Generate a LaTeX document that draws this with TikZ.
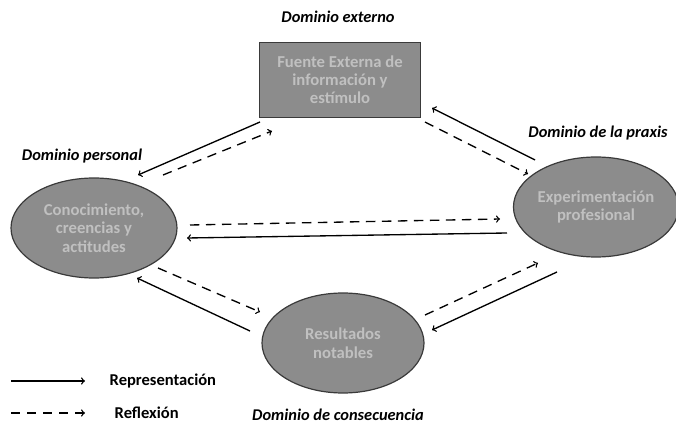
\documentclass[tikz,border=0pt]{standalone}
\usepackage{fontspec}
\setmainfont{Carlito}
\usepackage{tikz}
\usetikzlibrary{shapes.geometric}

\definecolor{relleno}{HTML}{8C8C8C}
\definecolor{borde}{HTML}{3A3A3A}
\definecolor{letra}{HTML}{C0C0C0}

\begin{document}
\begin{tikzpicture}[x=0.75pt,y=-0.75pt,>=to,
    dominio/.style={ellipse,draw=borde,line width=0.9pt,fill=relleno,text=letra,
      font=\bfseries\fontsize{12.5}{14}\selectfont,align=center,inner sep=0pt},
    fuente/.style={rectangle,draw=borde,line width=0.9pt,fill=relleno,text=letra,
      font=\bfseries\fontsize{12.5}{13.5}\selectfont,align=center,
      minimum width=120.75pt,minimum height=56.25pt},
    titulo/.style={font=\bfseries\itshape\fontsize{12.3}{14}\selectfont},
    leyenda/.style={font=\bfseries\fontsize{12.4}{14}\selectfont,anchor=west},
    rep/.style={->,line width=1pt},
    refl/.style={->,line width=1pt,dash pattern=on 7pt off 5pt}]

  \useasboundingbox (0,0) rectangle (676,424);

  % dominios
  \node[fuente] (fuente) at (340,80) {Fuente Externa de\\información y\\estímulo};
  \node[dominio,minimum width=124.5pt,minimum height=75pt] (personal) at (94,228)
    {Conocimiento,\\creencias y\\actitudes};
  \node[dominio,minimum width=117pt,minimum height=75pt] (praxis) at (596,207)
    {Experimentación\\profesional};
  \node[dominio,minimum width=121.5pt,minimum height=75pt] (resultados) at (343,343)
    {Resultados\\notables};

  \node[titulo] (tExterno) at (338,17) {Dominio externo};
  \node[titulo] (tPersonal) at (82,156) {Dominio personal};
  \node[titulo] (tPraxis) at (598,133) {Dominio de la praxis};
  \node[titulo] (tConsec) at (338,415) {Dominio de consecuencia};

  % flechas
  \path[rep] ([shift={(-80,42)}]fuente.center) edge ([shift={(44,-53)}]personal.center);
  \path[refl] ([shift={(69,-53)}]personal.center) edge ([shift={(-68,51)}]fuente.center);

  \path[rep] ([shift={(-61,-47)}]praxis.center) edge ([shift={(92,28)}]fuente.center);
  \path[refl] ([shift={(85,42)}]fuente.center) edge ([shift={(-68,-33)}]praxis.center);

  \path[refl] ([shift={(96,-3)}]personal.center) edge ([shift={(-96,12)}]praxis.center);
  \path[rep] ([shift={(-89,26)}]praxis.center) edge ([shift={(93,10)}]personal.center);

  \path[refl] ([shift={(64,40)}]personal.center) edge ([shift={(-83,-31)}]resultados.center);
  \path[rep] ([shift={(-93,-12)}]resultados.center) edge ([shift={(43,50)}]personal.center);

  \path[refl] ([shift={(82,-28)}]resultados.center) edge ([shift={(-58,56)}]praxis.center);
  \path[rep] ([shift={(-39,65)}]praxis.center) edge ([shift={(89,-13)}]resultados.center);

  % leyenda
  \node[leyenda] (lRep) at (105,381) {Representación};
  \node[leyenda] (lRefl) at (110,413) {Reflexión};
  \path[rep] ([xshift=-70.5pt]lRep.west) edge ([xshift=-15pt]lRep.west);
  \path[refl] ([xshift=-74.25pt]lRefl.west) edge ([xshift=-18.75pt]lRefl.west);

\end{tikzpicture}
\end{document}
